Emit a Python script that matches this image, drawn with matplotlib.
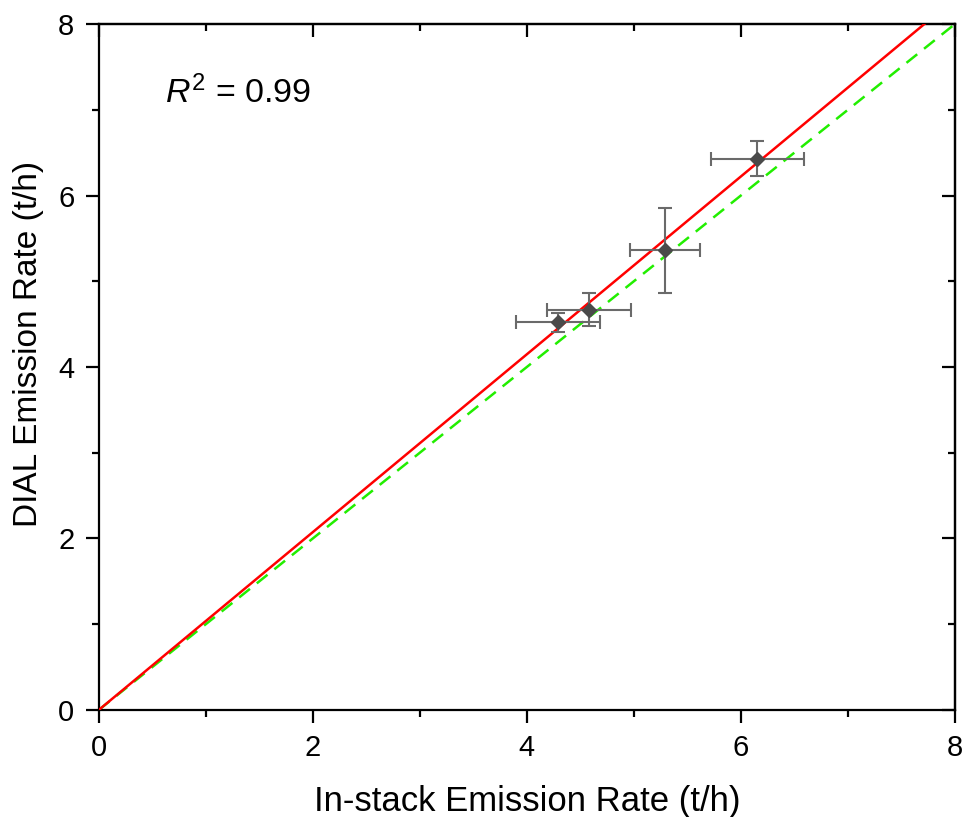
import matplotlib
matplotlib.use("Agg")
import matplotlib.pyplot as plt
import numpy as np

# in-stack vs DIAL emission rates (t/h)
instack = [4.29, 4.58, 5.29, 6.155]
instack_err = [0.39, 0.396, 0.33, 0.434]
dial = [4.52, 4.67, 5.36, 6.43]
dial_err = [0.11, 0.195, 0.50, 0.204]

fit_slope = 1.037      # regression through origin (red)
one_to_one = 1.0       # 1:1 reference (green dashed)
r2_text = r"$R^{2}$ = 0.99"

plt.rcParams["font.family"] = ["Liberation Sans", "DejaVu Sans"]
plt.rcParams["mathtext.fontset"] = "custom"
plt.rcParams["mathtext.rm"] = "Liberation Sans"
plt.rcParams["mathtext.it"] = "Liberation Sans:italic"

fig = plt.figure(figsize=(9.68, 8.17), dpi=100)
ax = fig.add_axes([0.1020, 0.1310, 0.8845, 0.8396])

xx = np.array([0.0, 8.0])
ax.plot(xx, one_to_one * xx, color="#22ee00", lw=1.8, dashes=(5.5, 3.5), zorder=2)
ax.plot(xx, fit_slope * xx, color="red", lw=1.8, zorder=3)

ax.errorbar(instack, dial, xerr=instack_err, yerr=dial_err, fmt="D",
            color="#4a4a4a", ms=7, ecolor="#6a6a6a", elinewidth=1.5,
            capsize=4.8, capthick=1.5, zorder=4)

ax.text(0.62, 7.2, r2_text, fontsize=24.5, ha="left", va="center")

ax.set_xlim(0, 8)
ax.set_ylim(0, 8)
ax.set_xticks([0, 2, 4, 6, 8])
ax.set_yticks([0, 2, 4, 6, 8])
ax.set_xticks([1, 3, 5, 7], minor=True)
ax.set_yticks([1, 3, 5, 7], minor=True)

ax.set_xlabel("In-stack Emission Rate (t/h)", fontsize=25, labelpad=16)
ax.set_ylabel("DIAL Emission Rate (t/h)", fontsize=24)
ax.yaxis.set_label_coords(-0.064, 0.5335)

for s in ax.spines.values():
    s.set_linewidth(1.6)

ax.tick_params(which="both", direction="out", width=1.6, labelsize=21, pad=8,
               top=False, right=False)
ax.tick_params(which="major", length=9.5)
ax.tick_params(which="minor", length=5)

# mirrored inward ticks on top and right, no labels
for side in ("top", "right"):
    sec = ax.secondary_xaxis("top") if side == "top" else ax.secondary_yaxis("right")
    sec.set_ticks([0, 2, 4, 6, 8])
    sec.set_ticks([1, 3, 5, 7], minor=True)
    sec.tick_params(which="both", direction="in", width=1.6, labelsize=0,
                    labelbottom=False, labeltop=False, labelleft=False, labelright=False)
    sec.tick_params(which="major", length=9.5)
    sec.tick_params(which="minor", length=5)
    sec.spines[side].set_linewidth(1.6)

fig.savefig("out.png", dpi=100)
